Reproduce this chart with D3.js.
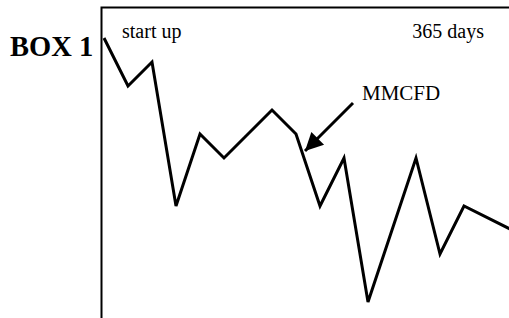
<!DOCTYPE html>
<html>
<head>
<meta charset="utf-8">
<script src="https://cdn.jsdelivr.net/npm/d3@7"></script>
<style>
  html, body { margin: 0; padding: 0; background: #fff; }
  svg text { font-family: "Liberation Serif", "Times New Roman", serif; fill: #000; }
</style>
</head>
<body>
<div id="chart"></div>
<script>
// production steps along the year and the relative rate (MMCFD) at each
var steps = [0, 1, 2, 3, 4, 5, 7, 8, 9, 10, 11, 13, 14, 15, 17];
var rates = [12, 10, 11, 5, 8, 7, 9, 8, 5, 7, 1, 7, 3, 5, 4];
var title = 'BOX 1',
    startLabel = 'start up',
    endLabel = '365 days',
    seriesLabel = 'MMCFD';

var width = 509,
    height = 318;

var svg = d3.select('#chart').append('svg')
    .attr('width', width)
    .attr('height', height);

var x = d3.scaleLinear().domain([0, 17]).range([104, 512]);
var y = d3.scaleLinear().domain([0, 12]).range([326, 38]);

// box: left and top edges only
svg.append('path')
    .attr('d', 'M101.5,318V7.5H509')
    .attr('fill', 'none')
    .attr('stroke', '#000')
    .attr('stroke-width', 2);

svg.append('text')
    .attr('x', 10).attr('y', 56)
    .style('font-size', '28.5px')
    .style('font-weight', 'bold')
    .text(title);

svg.append('text')
    .attr('x', 122).attr('y', 38)
    .style('font-size', '20px')
    .text(startLabel);

svg.append('text')
    .attr('x', 484).attr('y', 38)
    .attr('text-anchor', 'end')
    .style('font-size', '20px')
    .text(endLabel);

var line = d3.line()
    .x(function(d, i) { return x(steps[i]); })
    .y(function(d) { return y(d); });

svg.append('path')
    .datum(rates)
    .attr('d', line)
    .attr('fill', 'none')
    .attr('stroke', '#000')
    .attr('stroke-width', 3)
    .attr('stroke-linejoin', 'miter');

// label + arrow pointing at the line
svg.append('text')
    .attr('x', 362).attr('y', 100)
    .style('font-size', '21px')
    .text(seriesLabel);

svg.append('defs').append('marker')
    .attr('id', 'head')
    .attr('viewBox', '0 0 10 10')
    .attr('refX', 10).attr('refY', 5)
    .attr('markerWidth', 7).attr('markerHeight', 6)
    .attr('markerUnits', 'strokeWidth')
    .attr('orient', 'auto')
  .append('path')
    .attr('d', 'M0,0L10,5L0,10z')
    .attr('fill', '#000');

svg.append('line')
    .attr('x1', 353).attr('y1', 103)
    .attr('x2', 305).attr('y2', 151)
    .attr('stroke', '#000')
    .attr('stroke-width', 3)
    .attr('marker-end', 'url(#head)');
</script>
</body>
</html>
